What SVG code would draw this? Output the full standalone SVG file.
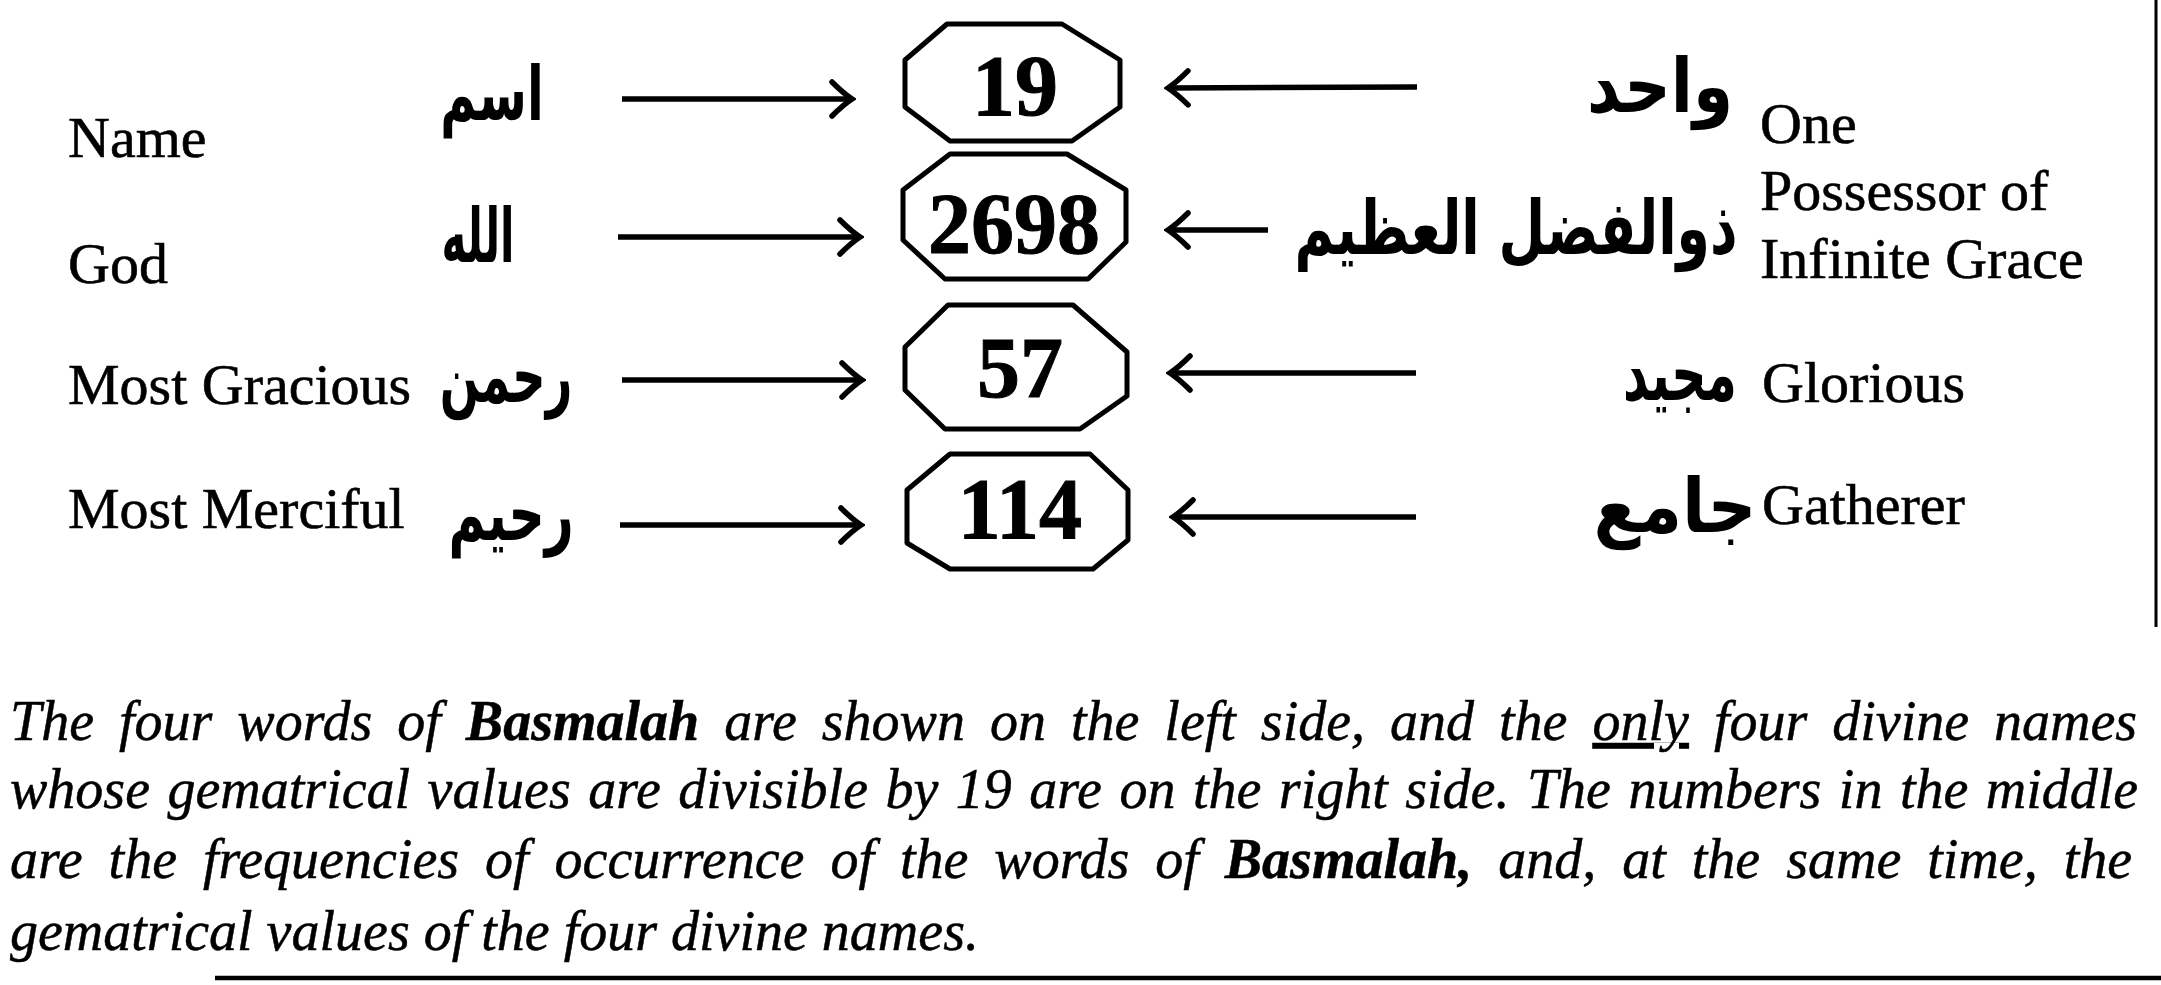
<svg xmlns="http://www.w3.org/2000/svg" width="2161" height="985" viewBox="0 0 2161 985">
<style>
.en{font-family:"Liberation Serif","Times New Roman",serif;font-size:58px;fill:#000;stroke:#000;stroke-width:0.6}
.ar{font-family:"DejaVu Sans",sans-serif;font-size:68px;font-weight:bold;fill:#000;text-anchor:middle}
.num{font-family:"Liberation Serif","Times New Roman",serif;font-size:86px;font-weight:bold;fill:#000;text-anchor:middle;stroke:#000;stroke-width:1}
.oct{fill:none;stroke:#000;stroke-width:5;stroke-linejoin:round}
.arr{stroke:#000;stroke-width:5.5;fill:none;marker-end:url(#ah)}
.cap{font-family:"Liberation Serif","Times New Roman",serif;font-size:56px;font-style:italic;fill:#000;stroke:#000;stroke-width:0.5}
.b{font-weight:bold}
.rule{stroke:#000;fill:none}
</style>
<defs>
<marker id="ah" viewBox="-26 -22 30 44" refX="0" refY="0" markerWidth="30" markerHeight="44" markerUnits="userSpaceOnUse" orient="auto">
<path d="M-20,-17 Q-9,-6 0,0 Q-9,6 -20,17" fill="none" stroke="#000" stroke-width="5.5" stroke-linecap="round"/>
</marker>
</defs>
<rect width="2161" height="985" fill="#fff"/>

<g id="left-labels">
<text class="en" x="68" y="157">Name</text>
<text class="en" x="68" y="283">God</text>
<text class="en" x="68" y="404">Most Gracious</text>
<text class="en" x="68" y="528">Most Merciful</text>
</g>

<g id="left-arabic">
<text class="ar" transform="translate(492,120) scale(0.72,1.1)">اسم</text>
<text class="ar" transform="translate(478,262) scale(0.62,1.1)">الله</text>
<text class="ar" transform="translate(506,402) scale(0.68,1.1)">رحمن</text>
<text class="ar" transform="translate(511,540) scale(0.74,1.1)">رحيم</text>
</g>

<g id="node-19"><polygon class="oct" points="947,24 1062,24 1120,60 1120,107 1072,141 950,141 905,107 905,60"/><text class="num" x="1015" y="115">19</text></g>
<g id="node-2698"><polygon class="oct" points="950,154 1067,154 1126,190 1126,242 1088,279 945,279 903,240 903,190"/><text class="num" x="1014" y="253">2698</text></g>
<g id="node-57"><polygon class="oct" points="948,305 1073,305 1127,352 1127,396 1080,429 945,429 905,390 905,347"/><text class="num" x="1020" y="397">57</text></g>
<g id="node-114"><polygon class="oct" points="950,454 1090,454 1128,490 1128,540 1093,569 950,569 907,543 907,490"/><text class="num" x="1020" y="538">114</text></g>

<g id="connectors">
<line class="arr" x1="622" y1="99" x2="852" y2="99"/>
<line class="arr" x1="618" y1="237" x2="860" y2="237"/>
<line class="arr" x1="622" y1="380" x2="862" y2="380"/>
<line class="arr" x1="620" y1="525" x2="861" y2="525"/>
<line class="arr" x1="1417" y1="87" x2="1168" y2="88"/>
<line class="arr" x1="1268" y1="230" x2="1168" y2="230"/>
<line class="arr" x1="1416" y1="373" x2="1170" y2="373"/>
<line class="arr" x1="1416" y1="517" x2="1173" y2="517"/>
</g>

<g id="right-arabic">
<text class="ar" transform="translate(1660,112) scale(0.95,1.1)">واحد</text>
<text class="ar" transform="translate(1516,254) scale(0.79,1.1)">ذوالفضل العظيم</text>
<text class="ar" transform="translate(1680,400) scale(0.72,1.1)">مجيد</text>
<text class="ar" transform="translate(1675,532) scale(1.0,1.1)">جامع</text>
</g>

<g id="right-labels">
<text class="en" x="1760" y="143">One</text>
<text class="en" x="1760" y="210">Possessor of</text>
<text class="en" x="1760" y="278">Infinite Grace</text>
<text class="en" x="1762" y="402">Glorious</text>
<text class="en" x="1762" y="524">Gatherer</text>
</g>

<g id="caption">
<text class="cap" x="10" y="740" word-spacing="11">The four words of <tspan class="b">Basmalah</tspan> are shown on the left side, and the <tspan text-decoration="underline">only</tspan> four divine names</text>
<text class="cap" x="10" y="808" word-spacing="3.5">whose gematrical values are divisible by 19 are on the right side. The numbers in the middle</text>
<text class="cap" x="10" y="878" word-spacing="12">are the frequencies of occurrence of the words of <tspan class="b">Basmalah,</tspan> and, at the same time, the</text>
<text class="cap" x="10" y="950">gematrical values of the four divine names.</text>
</g>

<g id="frame">
<line class="rule" x1="2156" y1="0" x2="2156" y2="627" stroke-width="3"/>
<line class="rule" x1="215" y1="978" x2="2161" y2="978" stroke-width="4.5"/>
</g>
</svg>
